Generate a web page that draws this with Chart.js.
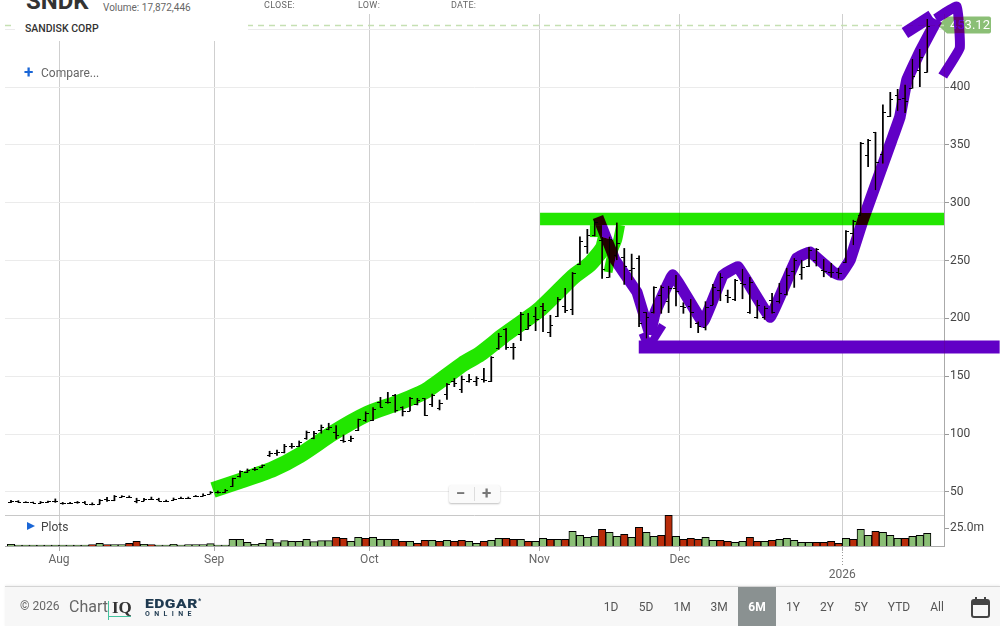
<!DOCTYPE html>
<html>
<head>
<meta charset="utf-8">
<title>SNDK</title>
<script src="https://cdn.jsdelivr.net/npm/chart.js@4"></script>
<style>
  html, body { margin: 0; padding: 0; background: #fff; }
  body { width: 1000px; height: 626px; position: relative; overflow: hidden; font-family: Roboto, sans-serif; color: #666; }
  canvas { position: absolute; left: 0; top: 0; }
  .abs { position: absolute; white-space: nowrap; line-height: 1; }
  #head { position: absolute; left: 15px; top: 0; width: 233px; height: 41px; background: #fff; overflow: hidden; }
  #zoom { position: absolute; left: 449px; top: 485px; width: 51px; height: 18px; background: #fafafa; border-radius: 2px; box-shadow: 0 1px 2px rgba(0,0,0,.25); color: #777; font-weight: bold; font-size: 17px; }
  #zoom i { position: absolute; left: 25px; top: 2px; width: 1px; height: 14px; background: #ddd; }
  #foot { position: absolute; left: 5px; right: 0; top: 586px; height: 40px; background: #f7f7f7; border-top: 1px solid #d4d4d4; box-shadow: 0 -1px 2px rgba(0,0,0,.06); }
  .range { position: absolute; top: 601px; font-size: 12px; color: #555; transform: translateX(-50%); line-height: 12px; }
  #sel { position: absolute; left: 738px; top: 587px; width: 38px; height: 39px; background: #8a9191; }
</style>
</head>
<body>
<canvas id="myChart" width="1000" height="626"></canvas>

<div id="head">
  <div class="abs" style="left:11px;top:-11px;font-size:24px;font-weight:bold;color:#333">SNDK</div>
  <div class="abs" style="left:88px;top:3px;font-size:10px;color:#666">Volume: 17,872,446</div>
  <div class="abs" style="left:10px;top:24px;font-size:10.5px;font-weight:500;color:#333">SANDISK CORP</div>
</div>
<div class="abs" style="left:264px;top:1px;font-size:9px;color:#666;letter-spacing:.3px">CLOSE:</div>
<div class="abs" style="left:358px;top:1px;font-size:9px;color:#666;letter-spacing:.3px">LOW:</div>
<div class="abs" style="left:451px;top:1px;font-size:9px;color:#666;letter-spacing:.3px">DATE:</div>

<div class="abs" style="left:24px;top:64px;font-size:17px;font-weight:bold;color:#1a66d6">+</div>
<div class="abs" style="left:41px;top:67px;font-size:12px;color:#666">Compare...</div>
<div class="abs" style="left:27px;top:522px;width:0;height:0;border-left:8px solid #1a66d6;border-top:4.5px solid transparent;border-bottom:4.5px solid transparent"></div>
<div class="abs" style="left:41px;top:521px;font-size:12px;color:#444">Plots</div>

<div id="zoom">
  <span class="abs" style="left:7px;top:0">−</span><i></i><span class="abs" style="left:33px;top:0">+</span>
</div>

<div id="foot"></div>
<div class="abs" style="left:20px;top:600px;font-size:12px;color:#666">© 2026</div>
<div class="abs" style="left:69px;top:599px;font-size:16px;color:#666">Chart</div>
<div class="abs" style="left:108px;top:601px;width:1px;height:19px;background:#45c3a0"></div>
<div class="abs" style="left:108px;top:616px;width:23px;height:1px;background:#45c3a0"></div>
<div class="abs" style="left:112px;top:599px;font-size:17px;font-weight:bold;font-family:'Liberation Serif',serif;color:#333">IQ</div>
<div class="abs" style="left:145px;top:598px;font-size:12.5px;font-weight:900;color:#1f3a50;letter-spacing:.4px;transform:scaleX(1.25);transform-origin:left">EDGAR</div>
<div class="abs" style="left:198px;top:598px;font-size:7px;font-weight:bold;color:#1f3a50">*</div>
<div class="abs" style="left:145px;top:611px;font-size:7px;font-weight:bold;color:#1f3a50;letter-spacing:4.4px">ONLINE</div>

<div id="sel"></div>
<div class="range" style="left:611px">1D</div>
<div class="range" style="left:646px">5D</div>
<div class="range" style="left:682px">1M</div>
<div class="range" style="left:719px">3M</div>
<div class="range" style="left:757px;color:#fff;font-weight:bold">6M</div>
<div class="range" style="left:793px">1Y</div>
<div class="range" style="left:827px">2Y</div>
<div class="range" style="left:861px">5Y</div>
<div class="range" style="left:899px">YTD</div>
<div class="range" style="left:937px">All</div>
<svg class="abs" style="left:971px;top:597px" width="19" height="21" viewBox="0 0 19 21">
  <rect x="1" y="3" width="17" height="17" rx="2" fill="none" stroke="#444" stroke-width="2"/>
  <rect x="1" y="3" width="17" height="5" fill="#444"/>
  <rect x="4" y="0" width="2" height="4" fill="#444"/>
  <rect x="13" y="0" width="2" height="4" fill="#444"/>
</svg>

<script>
// bar 0 is the first session of August, the rest count trading days from there
const firstBar = -7;

const monthTicks = [-0.5, 20.5, 41.5, 64.5, 83.5, 105.5];
const monthLabels = ["Aug", "Sep", "Oct", "Nov", "Dec", "2026"];
const priceTicks = [50, 100, 150, 200, 250, 300, 350, 400, 450];
const volumeTicks = [25, 43.06];

const opens = [
  41.0,42.0,41.2,41.0,40.6,41.2,41.8,40.2,40.4,41.0,41.4,39.2,40.0,43.6,43.0,46.0,46.0,42.6,42.6,44.0,
  44.0,42.0,43.4,45.0,45.2,46.2,46.8,48.6,49.7,50.0,54.9,63.9,67.3,69.6,71.3,81.7,84.0,84.3,89.8,89.5,
  96.4,96.7,103.6,104.8,102.2,95.0,95.0,103.3,112.0,112.2,127.5,127.5,133.8,123.8,120.3,126.1,131.0,126.1,122.3,134.7,
  145.9,139.0,146.2,145.9,148.0,146.2,174.2,190.6,175.0,186.3,191.2,202.4,211.0,188.0,202.1,211.0,207.9,247.0,262.5,272.0,
  268.0,235.5,255.0,253.3,241.8,251.9,205.2,205.2,220.2,214.7,226.0,210.7,210.7,195.7,192.3,211.6,224.5,220.2,217.0,230.3,
  205.5,201.5,200.9,215.9,215.3,221.1,241.2,238.4,245.3,250.5,241.8,240.4,240.4,249.0,273.6,289.4,341.0,360.9,341.9,375.0,
  393.1,390.2,398.9,414.7,412.7
];
const highs = [
  42.8,42.5,41.6,41.3,41.8,42.2,44.0,41.0,41.0,41.8,41.8,40.6,43.6,45.4,47.0,46.8,46.6,44.6,44.6,45.6,
  44.6,43.0,44.8,45.6,45.6,47.0,48.4,50.4,50.9,52.3,62.1,68.2,69.9,71.3,73.4,85.2,86.3,91.2,92.0,94.1,
  102.7,102.4,107.9,109.4,107.3,99.3,98.4,113.1,119.4,122.9,131.8,136.1,134.4,123.8,131.8,131.0,131.0,134.7,129.5,143.9,
  148.2,150.3,151.7,149.7,156.9,167.0,187.1,191.4,178.5,205.3,204.4,209.6,213.0,202.7,218.2,226.0,239.8,270.6,277.0,285.0,
  270.0,270.6,282.7,260.5,255.6,254.2,205.2,227.4,228.3,228.0,237.5,213.6,216.5,197.2,214.5,229.4,238.9,224.5,233.8,242.7,
  235.5,215.9,210.7,221.6,230.3,243.3,251.9,250.5,261.4,260.5,251.0,247.6,243.3,275.9,285.0,352.2,354.8,360.9,384.5,395.4,
  398.0,401.8,423.9,432.6,458.5
];
const lows = [
  40.8,41.0,40.8,40.6,40.4,40.8,41.0,39.4,40.0,40.2,39.8,38.8,39.6,41.8,42.4,45.6,45.6,40.6,42.2,43.4,
  42.2,41.6,43.2,44.8,45.0,46.0,46.4,48.2,48.9,49.5,54.6,62.7,66.7,68.5,71.0,80.6,81.7,83.7,87.8,89.2,
  95.5,95.8,100.7,103.6,95.8,92.9,93.5,103.0,110.8,111.7,123.2,126.6,118.9,115.7,120.0,125.2,116.0,123.8,120.9,130.1,
  141.0,135.9,144.8,141.9,144.8,145.4,173.3,173.3,164.7,180.8,190.6,189.4,188.6,184.2,201.5,205.0,203.2,246.4,256.2,271.2,
  234.6,235.5,250.5,229.4,233.2,192.9,182.8,204.4,204.4,205.0,210.7,204.4,192.0,187.7,190.0,211.6,215.3,213.6,215.3,217.0,
  204.4,200.0,199.2,204.4,213.0,220.2,226.8,233.8,244.7,245.3,236.0,235.5,234.6,247.9,263.5,289.4,331.2,311.0,334.0,374.4,
  379.6,377.9,398.9,400.3,412.7
];
const closes = [
  42.3,41.2,41.0,40.9,41.5,41.9,42.5,40.4,40.8,41.0,40.0,39.8,43.2,43.0,46.4,46.4,46.0,43.4,44.0,44.2,
  42.4,42.0,44.0,45.2,45.2,46.4,47.6,50.0,49.7,52.0,61.8,67.9,69.3,70.2,73.1,84.0,84.9,90.1,89.8,93.0,
  101.6,101.3,106.5,106.5,99.3,94.1,96.4,112.8,118.0,121.5,123.8,127.5,120.9,120.0,131.0,129.5,116.6,133.8,127.2,143.3,
  143.9,147.4,147.4,148.2,146.8,166.4,185.1,175.6,175.0,203.5,194.3,199.2,207.0,194.0,216.5,207.3,239.0,267.2,272.0,283.6,
  243.0,269.0,265.4,245.3,243.3,195.7,200.9,226.8,227.4,226.6,224.0,210.1,205.8,193.4,210.1,226.8,235.5,218.2,233.2,229.7,
  231.7,211.6,208.7,205.8,221.6,237.5,250.5,244.7,259.1,260.0,241.2,240.4,239.0,275.9,284.5,351.4,354.2,335.0,378.1,389.4,
  390.0,388.2,409.8,426.2,453.12
];

// millions of shares
const volumes = [
  2.3,1.2,1.2,1.2,1.2,1.2,1.2,1.2,1.2,1.2,1.2,1.9,3.7,1.9,1.9,1.9,3.7,6.5,2.3,1.9,
  1.2,1.2,2.3,1.2,1.9,1.9,1.9,3.2,1.2,1.2,9.3,9.3,5.1,2.3,3.7,9.3,4.6,7.4,6.5,6.5,
  9.3,6.0,7.4,7.4,12.0,10.6,6.5,12.0,10.6,12.0,9.3,9.3,9.3,6.5,6.5,3.7,7.9,7.9,6.5,7.9,
  6.5,7.9,6.5,3.7,6.5,7.9,10.6,10.6,9.3,9.3,6.5,6.5,10.6,9.3,9.3,9.3,20.4,14.8,12.0,13.4,
  23.2,19.0,13.4,16.2,12.0,25.9,19.0,13.4,14.8,42.6,13.4,9.3,10.6,9.3,12.0,7.9,7.9,6.5,5.1,6.5,
  12.0,6.5,6.5,7.9,9.3,10.6,7.9,5.1,5.1,5.1,5.1,6.5,3.7,10.6,9.3,23.2,14.8,20.4,19.0,14.8,
  10.6,10.6,13.4,14.8,17.6
];
const downBars = [4,6,9,10,12,37,38,41,45,46,48,49,51,53,54,57,60,61,63,66,68,73,76,78,81,82,84,85,86,89,90,93,94,96,102,103,104,105,107,110,114];

// hand drawn marker strokes on the original, [bar, price]
const greenCurve = [[20.34,51.7],[23.99,59.5],[28.46,69.8],[32.11,81.9],[36.58,101],[41.18,117.4],[45.64,127.7],[49.3,138.1],[54.17,160.6],[56.47,169.2],[59.58,184.8],[64.59,208.1],[69.05,235.8],[71.35,247],[73.1,260.8],[73.5,269.5]];
const greenBand = [[64.6,285.9],[119.3,285.9]];
const greenStub = [[71.35,275.5],[73,275.5]];
const greenHook = [[75.5,280.7],[75.1,267.8],[74.3,254.8],[73.8,240]];
const purpleDown = [[72.44,287.6],[74.74,250.5],[77.72,222.8],[79.48,185.7]];
const purpleZigzag = [[79.48,185.7],[80.15,204.7],[82.59,237.5],[86.65,196.9],[89.36,237.5],[91.39,244.4],[95.71,201.2],[98.02,233.2],[99.37,252.2],[101.13,257.4],[104.24,240.1],[105.2,237.5],[106.55,250.5],[108.3,285],[112.2,354.2],[113.3,374.1],[114.25,406],[116,430.3],[118.3,457.9]];
const purpleHeadLeft = [[113.98,446.7],[117.6,461.5]];
const purpleHeadRight = [[118.15,459],[121,469.5],[121.4,433.7],[119.1,409.5]];
const purpleTipLeft = [[78.53,187.4],[79.2,177]];
const purpleTipRight = [[81.2,194.3],[79.75,179.6]];
const purpleFloor = [[77.96,175.3],[126.8,175.3]];

const lastClose = closes[closes.length - 1];
const barX = idx => idx + firstBar;
const toXY = list => list.map(p => ({ x: p[0], y: p[1] }));

function marker(points, color, width, clip, tension) {
  return {
    type: "line",
    marker: true,
    data: toXY(points),
    borderColor: color,
    borderWidth: width,
    borderJoinStyle: "round",
    borderCapStyle: "butt",
    pointRadius: 0,
    tension: tension || 0,
    clip: clip,
    xAxisID: "x",
    yAxisID: "price"
  };
}

const GREEN = "#22e600";
const PURPLE = "#6100c6";

// marker pen look: overlaps go dark and black bars stay visible
const markerBlend = {
  id: "markerBlend",
  beforeDatasetDraw(chart, args) {
    if (chart.data.datasets[args.index].marker) {
      chart.ctx.globalCompositeOperation = "darken";
    }
  },
  afterDatasetDraw(chart) {
    chart.ctx.globalCompositeOperation = "source-over";
  }
};

const paperFill = {
  id: "paperFill",
  beforeDraw(chart) {
    chart.ctx.fillStyle = "#fff";
    chart.ctx.fillRect(0, 0, chart.width, chart.height);
  }
};

// last price tag, sits under the marker strokes
const priceTag = {
  id: "priceTag",
  beforeDatasetsDraw(chart) {
    const ctx = chart.ctx;
    const y = chart.scales.price.getPixelForValue(lastClose);
    const right = chart.chartArea.right;
    ctx.save();
    ctx.fillStyle = "#8bbf76";
    ctx.beginPath();
    ctx.moveTo(right - 6, y);
    ctx.lineTo(right + 3, y - 9);
    ctx.lineTo(right + 45, y - 9);
    ctx.quadraticCurveTo(right + 47, y - 9, right + 47, y - 7);
    ctx.lineTo(right + 47, y + 6);
    ctx.quadraticCurveTo(right + 47, y + 8, right + 45, y + 8);
    ctx.lineTo(right + 3, y + 8);
    ctx.closePath();
    ctx.fill();
    ctx.fillStyle = "#fff";
    ctx.font = "13px Roboto";
    ctx.textBaseline = "middle";
    ctx.fillText(lastClose.toFixed(2), right + 6, y);
    ctx.restore();
  }
};

// open and close ticks on the high-low bars
const ohlcTicks = {
  id: "ohlcTicks",
  afterDatasetsDraw(chart) {
    const ctx = chart.ctx;
    const xs = chart.scales.x;
    const ys = chart.scales.price;
    ctx.save();
    ctx.fillStyle = "#000";
    opens.forEach((o, idx) => {
      const x = Math.round(xs.getPixelForValue(barX(idx)));
      ctx.fillRect(x - 3, Math.round(ys.getPixelForValue(o)), 3, 1);
      ctx.fillRect(x, Math.round(ys.getPixelForValue(closes[idx])), 3, 1);
    });
    // dotted tick down to the year label
    const yearX = Math.round(xs.getPixelForValue(monthTicks[monthTicks.length - 1])) + 0.5;
    const base = chart.chartArea.bottom;
    ctx.fillStyle = "#999";
    for (let y = base + 6; y < base + 19; y += 3) {
      ctx.fillRect(yearX - 0.5, y, 1, 1);
    }
    ctx.restore();
  }
};

new Chart(document.getElementById("myChart"), {
  type: "bar",
  data: {
    datasets: [
      marker(purpleDown, PURPLE, 11, false),
      marker(purpleZigzag, PURPLE, 11.5, false, 0.07),
      marker(purpleHeadLeft, PURPLE, 12, false),
      marker(purpleHeadRight, PURPLE, 10, false, 0.1),
      marker(purpleTipLeft, PURPLE, 9, false),
      marker(purpleTipRight, PURPLE, 8, false),
      marker(purpleFloor, PURPLE, 13, false),
      marker(greenCurve, GREEN, 16, 0, 0.2),
      marker(greenBand, GREEN, 12.5, 0),
      marker(greenStub, GREEN, 12, 0),
      marker(greenHook, GREEN, 9, 0, 0.2),
      {
        type: "line",
        data: [{ x: -7.81, y: lastClose }, { x: 119.27, y: lastClose }],
        borderColor: "#c5e0b2",
        borderWidth: 1.5,
        borderDash: [6, 5],
        pointRadius: 0,
        xAxisID: "x",
        yAxisID: "price"
      },
      {
        data: highs.map((h, idx) => ({ x: barX(idx), y: [lows[idx], h] })),
        backgroundColor: "#000",
        borderWidth: 0,
        barThickness: 1.1,
        grouped: false,
        xAxisID: "x",
        yAxisID: "price"
      },
      {
        data: volumes.map((v, idx) => ({ x: barX(idx), y: v })),
        backgroundColor: volumes.map((v, idx) => downBars.includes(barX(idx)) ? "#b92c0a" : "#8bbf76"),
        borderColor: "#000",
        borderWidth: 1,
        barThickness: 7.4,
        grouped: false,
        xAxisID: "x",
        yAxisID: "volume"
      }
    ]
  },
  options: {
    responsive: false,
    animation: false,
    devicePixelRatio: 1,
    layout: { padding: { left: 5, top: 14, right: 0, bottom: 0 } },
    plugins: { legend: { display: false }, tooltip: { enabled: false } },
    scales: {
      x: {
        type: "linear",
        position: "bottom",
        min: -7.81,
        max: 119.27,
        offset: false,
        afterFit(scale) { scale.height = 80; },
        afterBuildTicks(scale) { scale.ticks = monthTicks.map(v => ({ value: v })); },
        grid: { offset: false, color: "#cfcfcf", tickColor: "#aaa", tickLength: 5 },
        border: { color: "#aaa" },
        ticks: {
          autoSkip: false,
          maxRotation: 0,
          padding: 2,
          color: "#666",
          font: { family: "Roboto", size: 12 },
          callback(value) {
            const label = monthLabels[monthTicks.indexOf(value)];
            return label === "2026" ? ["", label] : label;
          }
        }
      },
      price: {
        type: "linear",
        position: "right",
        stack: "panes",
        stackWeight: 501,
        min: 30.1,
        max: 463.1,
        afterFit(scale) { scale.width = 56; },
        afterBuildTicks(scale) { scale.ticks = priceTicks.map(v => ({ value: v })); },
        grid: { color: "#ebebeb", tickColor: "#999", tickLength: 5 },
        border: { color: "#aaa" },
        ticks: {
          autoSkip: false,
          padding: 1,
          color: "#444",
          font: { family: "Roboto", size: 12 },
          callback(value) { return value === 450 ? "" : value; }
        }
      },
      volume: {
        type: "linear",
        position: "right",
        stack: "panes",
        stackWeight: 31,
        min: 0,
        max: 43.06,
        afterFit(scale) { scale.width = 56; },
        afterBuildTicks(scale) { scale.ticks = volumeTicks.map(v => ({ value: v })); },
        grid: {
          color: ctx => ctx.tick && ctx.tick.value === 25 ? "rgba(0,0,0,0)" : "#c8c8c8",
          tickColor: ctx => ctx.tick && ctx.tick.value === 25 ? "#999" : "rgba(0,0,0,0)",
          tickLength: 5
        },
        border: { color: "#aaa" },
        ticks: {
          autoSkip: false,
          padding: 1,
          color: "#444",
          font: { family: "Roboto", size: 12 },
          callback(value) { return value === 25 ? "25.0m" : ""; }
        }
      }
    }
  },
  plugins: [paperFill, markerBlend, priceTag, ohlcTicks]
});
</script>
</body>
</html>
